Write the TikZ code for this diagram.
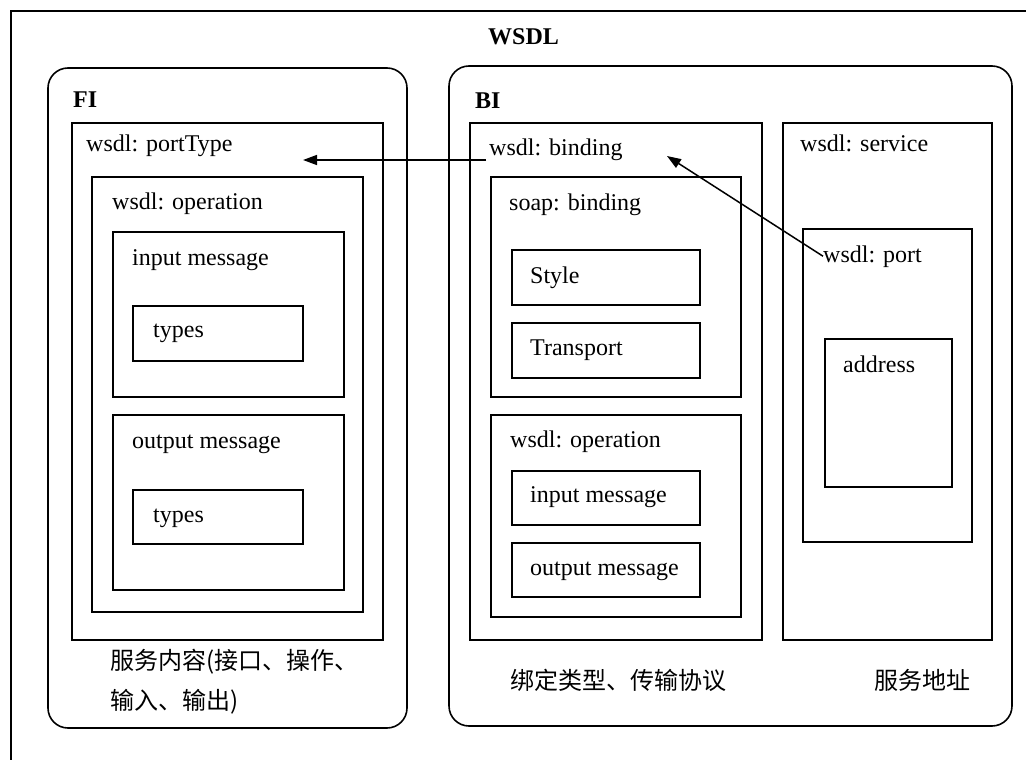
\documentclass[tikz,border=0pt]{standalone}
\usepackage{fontspec}
\setmainfont{Liberation Serif}
\newfontfamily\cjk{Noto Sans CJK SC}
\usetikzlibrary{fit,arrows.meta}
\begin{document}
\begin{tikzpicture}[x=1pt,y=-1pt,
  box/.style={draw, line width=1.6pt, inner sep=0pt},
  rbox/.style={box, rounded corners=20pt},
  lbl/.style={anchor=base west, inner sep=0pt, font=\fontsize{24}{28}\selectfont},
  ttl/.style={anchor=base west, inner sep=0pt, font=\bfseries\fontsize{24}{28}\selectfont},
  zh/.style={anchor=west, inner sep=0pt, font=\cjk\fontsize{24}{30}\selectfont},
  arr/.style={line width=1.5pt, -{Triangle[length=14pt,width=10pt]}}]
\useasboundingbox (0,0) rectangle (1026,760);

% page frame (top and left edges)
\draw[line width=1.6pt] (11,760) -- (11,11) -- (1026,11);
\node[ttl] (wsdl) at (488,45) {WSDL};

% ---- FI: service content ----
\node[rbox, fit={(48,68)(407,728)}] (fi) {};
\node[ttl] (filbl) at (73,107) {FI};
\node[box, fit={(72,123)(383,640)}] (porttype) {};
\node[lbl] (porttypelbl) at (86,151) {wsdl: portType};
\node[box, fit={(92,177)(363,612)}] (opfi) {};
\node[lbl] (opfilbl) at (112,209) {wsdl: operation};
\node[box, fit={(113,232)(344,397)}] (infi) {};
\node[lbl] (infilbl) at (132,265) {input message};
\node[box, fit={(133,306)(303,361)}] (typesin) {};
\node[lbl] (typesinlbl) at (153,337) {types};
\node[box, fit={(113,415)(344,590)}] (outfi) {};
\node[lbl] (outfilbl) at (132,448) {output message};
\node[box, fit={(133,490)(303,544)}] (typesout) {};
\node[lbl] (typesoutlbl) at (153,522) {types};
\node[zh] (ficap1) at (110,662) {服务内容(接口、操作、};
\node[zh] (ficap2) at (110,702) {输入、输出)};

% ---- BI: binding and service ----
\node[rbox, fit={(449,66)(1012,726)}] (bi) {};
\node[ttl] (bilbl) at (475,108) {BI};
\node[box, fit={(470,123)(762,640)}] (binding) {};
\node[lbl] (bindinglbl) at (489,155) {wsdl: binding};
\node[box, fit={(491,177)(741,397)}] (soap) {};
\node[lbl] (soaplbl) at (509,210) {soap: binding};
\node[box, fit={(512,250)(700,305)}] (style) {};
\node[lbl] (stylelbl) at (530,283) {Style};
\node[box, fit={(512,323)(700,378)}] (transport) {};
\node[lbl] (transportlbl) at (530,355) {Transport};
\node[box, fit={(491,415)(741,617)}] (opbi) {};
\node[lbl] (opbilbl) at (510,447) {wsdl: operation};
\node[box, fit={(512,471)(700,525)}] (inbi) {};
\node[lbl] (inbilbl) at (530,502) {input message};
\node[box, fit={(512,543)(700,597)}] (outbi) {};
\node[lbl] (outbilbl) at (530,575) {output message};

\node[box, fit={(783,123)(992,640)}] (service) {};
\node[lbl] (servicelbl) at (800,151) {wsdl: service};
\node[box, fit={(803,229)(972,542)}] (port) {};
\node[lbl] (portlbl) at (823,262) {wsdl: port};
\node[box, fit={(825,339)(952,487)}] (address) {};
\node[lbl] (addresslbl) at (843,372) {address};

\node[zh] (bicap) at (510,680) {绑定类型、传输协议};
\node[zh] (svcap) at (874,680) {服务地址};

% ---- references ----
\coordinate (bindref) at (486,160);
\coordinate (porttyperef) at (303,160);
\coordinate (bindtip) at (667,156);
\draw[arr] (bindref) -- (porttyperef);
\draw[arr] (portlbl.west) -- (bindtip);
\end{tikzpicture}
\end{document}
